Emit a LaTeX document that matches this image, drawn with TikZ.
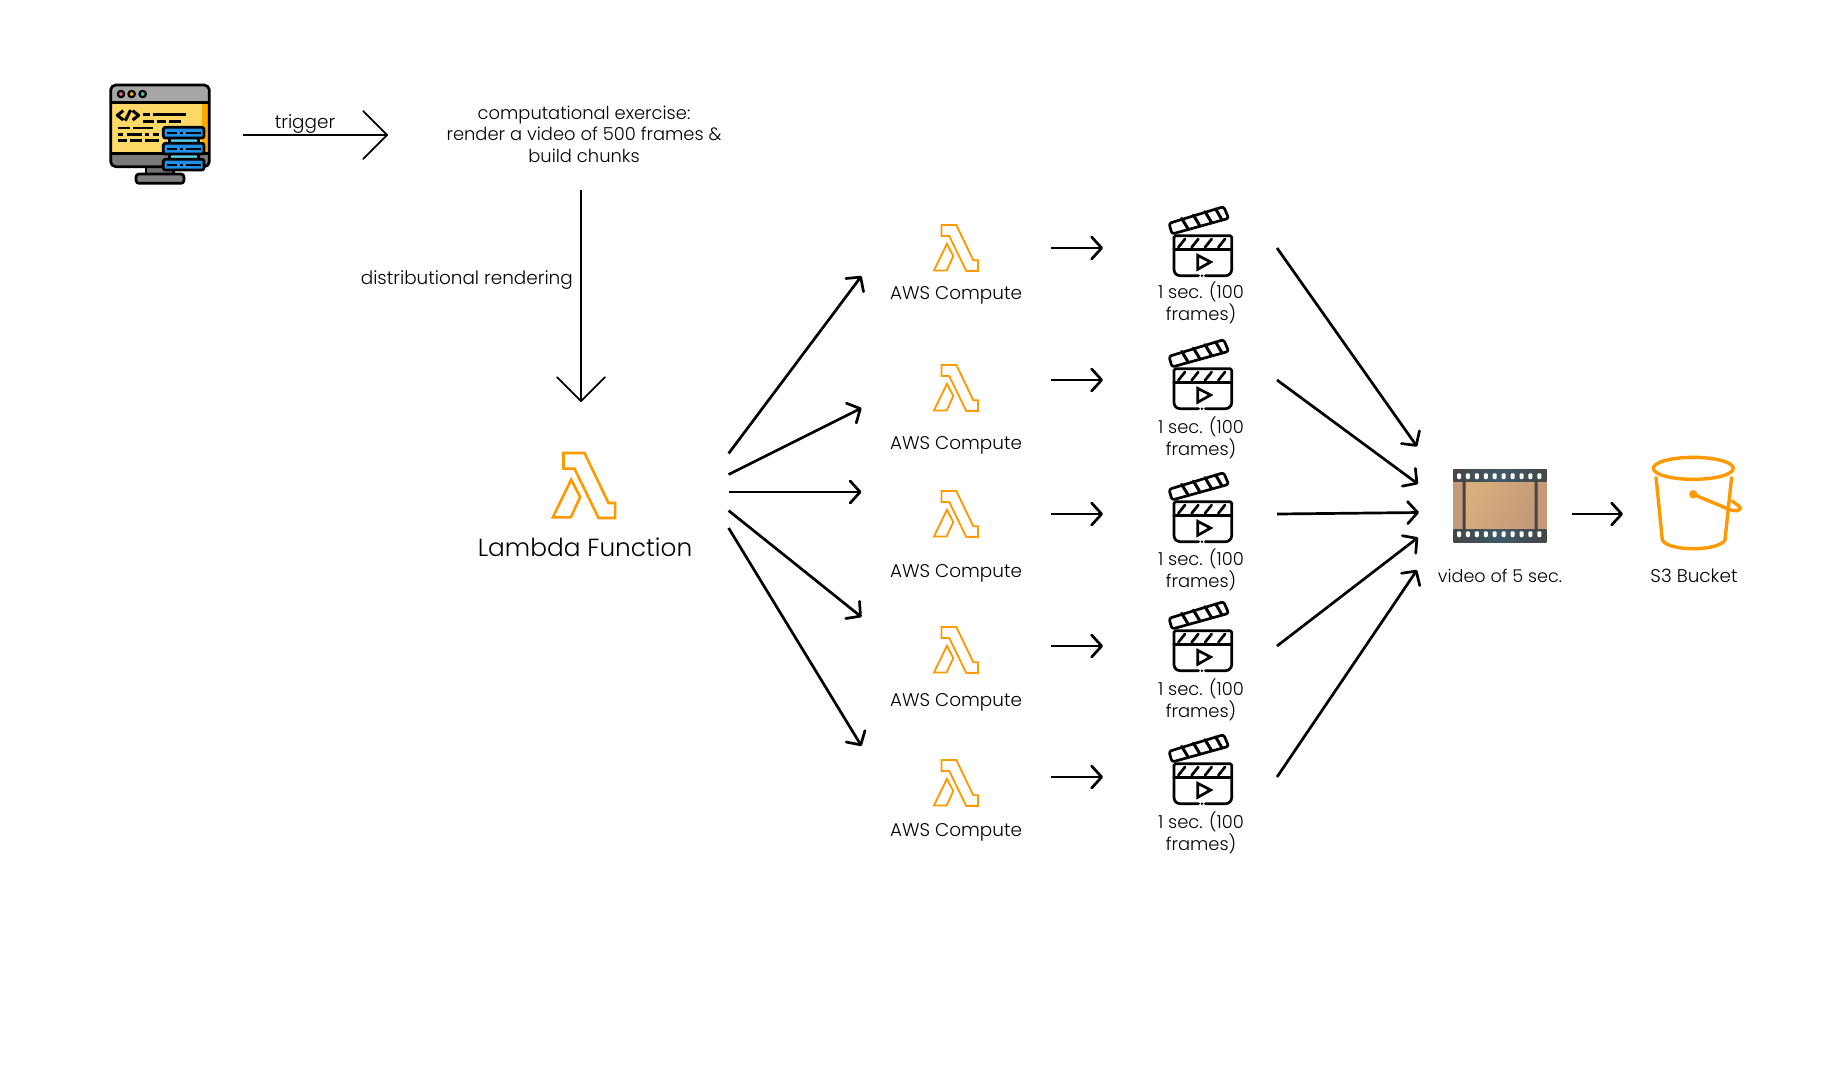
\documentclass[tikz,border=0pt]{standalone}
\usepackage{fontspec}
\setmainfont{Poppins Light}
\usetikzlibrary{arrows.meta,calc}
\definecolor{aws}{HTML}{FF9900}
\definecolor{film}{HTML}{C49A78}
\definecolor{filmhi}{HTML}{D9AE7E}
\definecolor{stripdk}{HTML}{454545}
\definecolor{stripbl}{HTML}{3F5A68}
\definecolor{scryellow}{HTML}{FFD966}
\definecolor{scrorange}{HTML}{FFA800}
\definecolor{srvblue}{HTML}{1E90E8}
\definecolor{srvcyan}{HTML}{5BC8E8}
\definecolor{dotpink}{HTML}{E8607A}
\definecolor{dotteal}{HTML}{35C2C2}
\tikzset{
  x=1pt,y=-1pt,
  port/.style={inner sep=0pt,outer sep=0pt,minimum width=#1},
  lbl/.style={font=\fontsize{17.9}{21.5}\selectfont,align=center,text=black,inner sep=0pt},
  lblwide/.style={lbl,font=\fontsize{18.4}{21.5}\selectfont},
  bigarrow/.style={line width=1.7pt,-{Straight Barb[length=24pt,width=48pt,line width=1.7pt,round]}},
  midarrow/.style={line width=2.7pt,-{Straight Barb[length=10pt,width=22pt,line width=2.7pt,round]}},
  lam/.style={draw=aws,line width=#1,line join=miter,fill=white},
  pics/lambdaicon/.style={code={
    \begin{scope}[x=#1pt,y=-#1pt]
      \draw[lam=2.6pt*#1*3] (0,0)--(63,0)--(135,150)--(155,150)--(155,195)--(105,195)--(33,47)--(0,47)--cycle;
      \draw[lam=2.6pt*#1*3] (23,80)--(50,132)--(22,193)--(-32,193)--cycle;
    \end{scope}}},
  pics/clapper/.style={code={
    \begin{scope}[x=.3333pt,y=-.3333pt,line width=2.7pt,line join=round,line cap=round]
      \draw[rounded corners=1.5pt] (72,178)--(72,137)--(245,137)--(245,178);
      \draw (72,178)--(245,178);
      \draw[rounded corners=6pt] (72,178)--(72,257)--(146,257);
      \draw[rounded corners=6pt] (245,178)--(245,257)--(166,257);
      \fill (156,257) circle (1.4pt);
      \foreach \a in {105,145,185,225}{\draw (\a,147)--(\a-20,172);}
      \draw[rounded corners=2.5pt] (66,132)--(57,100)--(221,50)--(236,85)--cycle;
      \foreach \a/\b/\c/\d in {95/85/115/118,130/75/150/108,165/65/185/98,197/57/215/88}{\draw[line width=3pt] (\a,\b)--(\c,\d);}
      \draw[line join=miter] (143,196)--(182,216)--(143,238)--cycle;
    \end{scope}}},
  pics/computer/.style={code={
    \begin{scope}[x=.3333pt,y=-.3333pt,line join=round,line width=2.7pt]
      \filldraw[fill=black!55] (168,285) rectangle (250,314);
      \filldraw[fill=black!50,rounded corners=3pt] (138,312) rectangle (282,340);
      \fill[black!35,rounded corners=5pt] (62,45) rectangle (358,100);
      \fill[black!52,rounded corners=5pt] (62,245) rectangle (358,290);
      \fill[scryellow] (66,97) rectangle (354,250);
      \fill[scrorange] (337,97) rectangle (354,250);
      \draw (62,97)--(358,97) (62,250)--(358,250);
      \draw[rounded corners=5pt] (62,45) rectangle (358,290);
      \foreach \a/\c in {93/dotpink,125/scrorange,158/dotteal}{\filldraw[fill=\c,line width=2.2pt] (\a,72) circle (3.2pt);}
      \draw[line width=3pt] (100,122)--(82,136)--(100,150) (128,122)--(146,136)--(128,150) (122,120)--(106,152);
      \draw (158,134)--(180,134) (190,134)--(288,134)
            (158,154)--(192,154) (200,154)--(228,154) (236,154)--(274,154)
            (83,174)--(120,174) (130,174)--(188,174)
            (83,193)--(100,193) (110,193)--(155,193) (165,193)--(178,193) (188,193)--(208,193)
            (83,211)--(112,211) (120,211)--(155,211) (165,211)--(208,211);
      \filldraw[fill=srvcyan] (238,204) rectangle (325,222) (238,252) rectangle (325,270);
      \foreach \t in {172,220,268}{
        \filldraw[fill=srvblue,rounded corners=2pt] (220,\t) rectangle (342,\t+32);
        \draw[line width=1.8pt] (232,\t+16)--(262,\t+16) (270,\t+16)--(280,\t+16) (288,\t+16)--(332,\t+16);
      }
    \end{scope}}},
  pics/film/.style={code={
    \begin{scope}[x=.3333pt,y=-.3333pt]
      \fill[film] (70,120) rectangle (350,272);
      \shade[bottom color=film, top color=filmhi, shading angle=60] (105,122) rectangle (316,270);
      \shade[left color=stripdk,right color=stripdk,middle color=stripbl] (70,87) rectangle (350,125);
      \shade[left color=stripdk,right color=stripdk,middle color=stripbl] (70,267) rectangle (350,307);
      \fill[stripdk] (98,120) rectangle (107,272) (314,120) rectangle (323,272);
      \foreach \i in {0,...,9}{
        \fill[white,rounded corners=1pt] (81+\i*26.8,100) rectangle (93+\i*26.8,117);
        \fill[white,rounded corners=1pt] (81+\i*26.8,274) rectangle (93+\i*26.8,291);
      }
    \end{scope}}},
  pics/bucket/.style={code={
    \begin{scope}[x=.3333pt,y=-.3333pt,draw=aws,line width=3.4pt]
      \draw (790,85) ellipse [x radius=40pt,y radius=11pt];
      \draw (678,110)--(697,300) .. controls (715,335) and (865,335) .. (885,300)--(905,110);
      \fill[aws] (790,163) circle (4.2pt);
      \draw (790,163)--(890,205) .. controls (925,222) and (940,205) .. (925,197) .. controls (918,190) and (908,186) .. (905,182);
    \end{scope}}}
}
\begin{document}
\begin{tikzpicture}
\useasboundingbox (0,0) rectangle (1828,1080);
\fill[white] (0,0) rectangle (1828,1080);
% invisible extents carrying connector ports
\node[port=133pt,minimum height=100pt] (comp) at (176.5,135) {};
\node[port=390pt,minimum height=110pt] (ex) at (583,135) {};
\node[port=295.2pt,minimum height=176pt] (lf) at (581,490) {};
\foreach \n/\y in {1/248,2/380,3/514,4/646,5/777}{
  \node[port=189.5pt,minimum height=60pt] (c\n) at (956.25,\y) {};
  \node[port=174pt,minimum height=60pt] (k\n) at (1190,\y) {};
}
\node[port=153pt,minimum height=80pt] (v) at (1495.5,514) {};
\node[port=140pt,minimum height=80pt] (b) at (1693,514) {};
% icons
\pic at (90,70) {computer};
\pic at (563.5,453) {lambdaicon=.3333};
\foreach \y in {225,365,491,627,760}{\pic at (941.5,\y) {lambdaicon=.2353};}
\foreach \y in {190,323,456,585,718}{\pic at (1150,\y) {clapper};}
\pic at (1430,440) {film};
\pic at (1430,440) {bucket};
% labels
\node[lblwide] (ttrig) at (305,124.5) {trigger};
\node[lbl] (tex) at (584,134) {computational exercise:\\render a video of 500 frames \&\\build chunks};
\node[lblwide,anchor=east] (tdist) at (573,280) {distributional rendering};
\node[lbl,font=\fontsize{24.8}{27}\selectfont] (tlf) at (585,547) {Lambda Function};
\foreach \n/\y in {1/295,2/445.5,3/573.5,4/702.5,5/832.5}{\node[lblwide] (ta\n) at (956,\y) {AWS Compute};}
\foreach \n/\y in {1/303,2/438,3/570,4/700,5/833}{\node[lbl] (tk\n) at (1201,\y) {1 sec. (100\\frames)};}
\node[lbl,font=\fontsize{17.6}{21}\selectfont] (tv) at (1500,575.5) {video of 5 sec.};
\node[lblwide] (tb) at (1694,575.5) {S3 Bucket};
% connectors
\draw[bigarrow] (comp.east) -- (ex.west);
\draw[bigarrow] ([shift={(-2,0)}]ex.south) -- (lf.north);
\draw[midarrow] ([shift={(0,-36.5)}]lf.east) -- ([shift={(0,28)}]c1.west);
\draw[midarrow] ([shift={(0,-15.5)}]lf.east) -- ([shift={(0,28)}]c2.west);
\draw[midarrow] ([shift={(0,2)}]lf.east) -- ([shift={(0,-22)}]c3.west);
\draw[midarrow] ([shift={(0,20.6)}]lf.east) -- ([shift={(0,-29)}]c4.west);
\draw[midarrow] ([shift={(0,38)}]lf.east) -- ([shift={(0,-31)}]c5.west);
\foreach \n in {1,...,5}{\draw[midarrow] (c\n.east) -- (k\n.west);}
\draw[midarrow] (k1.east) -- ([shift={(-2,-67.5)}]v.west);
\draw[midarrow] (k2.east) -- ([shift={(-1,-30)}]v.west);
\draw[midarrow] (k3.east) -- ([shift={(0,-1.5)}]v.west);
\draw[midarrow] (k4.east) -- ([shift={(-1,23.5)}]v.west);
\draw[midarrow] (k5.east) -- ([shift={(-2,56)}]v.west);
\draw[midarrow] (v.east) -- (b.west);
\end{tikzpicture}
\end{document}
